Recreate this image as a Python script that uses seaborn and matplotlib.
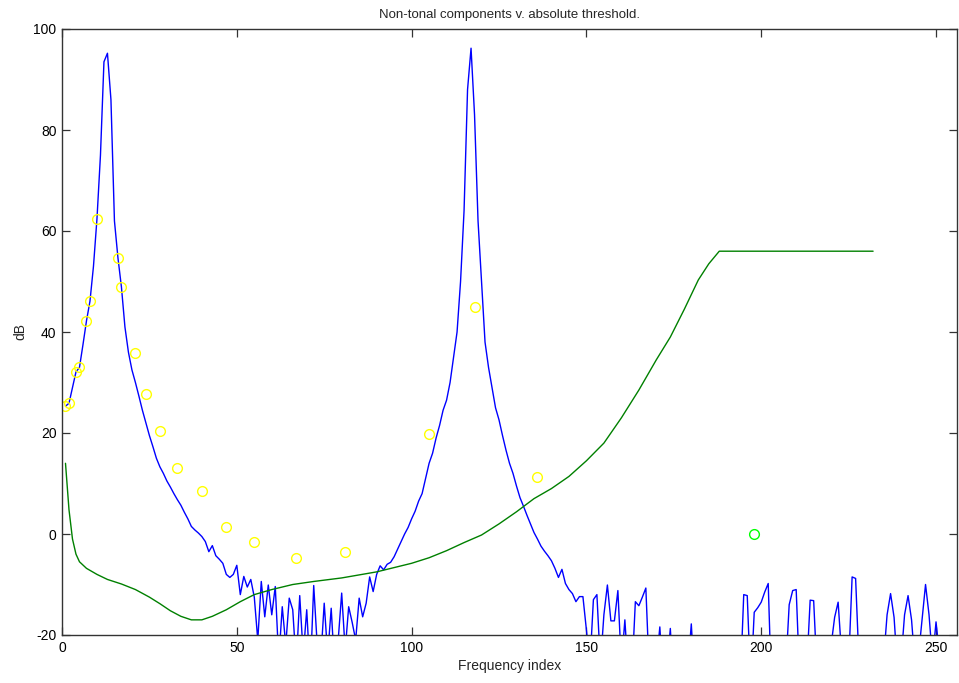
import numpy as np
import pandas as pd
import matplotlib
matplotlib.use("Agg")
import matplotlib.pyplot as plt
import seaborn as sns

# ---------------- data ----------------
freq_index = list(range(1, 257))
spectrum_db = [
    25.3, 25.9, 29.0, 32.1, 33.0, 37.5, 42.2, 46.1, 53.0, 62.4,      # 1-10
    75.0, 93.5, 95.2, 86.0, 62.0, 54.7, 48.9, 41.0, 36.0, 32.5,      # 11-20
    30.0, 27.3, 24.5, 22.0, 19.5, 17.3, 15.0, 13.3, 12.0, 10.5,      # 21-30
    9.3, 8.0, 6.8, 5.7, 4.3, 3.0, 1.5, 0.8, 0.2, -0.5,               # 31-40
    -1.5, -3.5, -2.3, -4.3, -5.0, -5.8, -8.0, -8.6, -8.0, -6.2,      # 41-50
    -12.0, -8.4, -10.5, -9.0, -12.5, -21.0, -9.4, -16.4, -10.1, -16.0,  # 51-60
    -10.4, -25.0, -14.4, -22.0, -12.7, -15.0, -26.0, -12.2, -24.0, -15.0,  # 61-70
    -28.0, -10.2, -22.0, -25.0, -13.7, -24.0, -14.7, -27.0, -21.0, -11.7,  # 71-80
    -23.0, -14.4, -17.5, -21.0, -12.7, -16.4, -13.7, -8.5, -11.4, -8.0,    # 81-90
    -6.3, -7.1, -6.0, -5.6, -4.5, -3.0, -1.5, 0.0, 1.3, 3.0,         # 91-100
    4.5, 6.5, 8.0, 11.0, 14.0, 16.0, 19.0, 21.5, 24.5, 26.5,         # 101-110
    30.0, 35.0, 40.0, 50.0, 64.0, 88.0, 96.2, 83.0, 62.0, 50.0,      # 111-120
    38.0, 33.0, 29.0, 25.0, 22.6, 19.5, 16.6, 14.0, 12.0, 9.5,       # 121-130
    7.2, 5.5, 3.7, 2.0, 0.3, -1.0, -2.4, -3.4, -4.3, -5.3,           # 131-140
    -6.8, -8.6, -7.0, -9.8, -11.0, -11.8, -13.4, -12.4, -12.4, -19.0,  # 141-150
    -26.0, -13.0, -12.0, -26.0, -16.0, -10.1, -17.2, -17.2, -11.2, -26.0,  # 151-160
    -17.0, -28.0, -28.0, -13.4, -14.2, -12.5, -10.7, -28.0, -32.0, -26.0,  # 161-170
    -18.4, -30.0, -27.0, -18.7, -31.0, -34.0, -29.0, -33.0, -27.0, -17.8,  # 171-180
    -30.0, -35.0, -31.0, -36.0, -33.0, -30.0, -35.0, -32.0, -37.0, -33.0,  # 181-190
    -30.0, -34.0, -31.0, -30.0, -12.0, -12.2, -30.0, -15.5, -14.6, -13.5,  # 191-200
    -11.5, -9.8, -32.0, -30.0, -35.0, -31.0, -27.0, -14.0, -11.2, -11.0,   # 201-210
    -29.0, -33.0, -27.0, -13.1, -13.2, -28.0, -32.0, -30.0, -34.0, -22.0,  # 211-220
    -16.5, -13.5, -24.0, -31.0, -26.0, -8.5, -8.8, -26.0, -32.0, -29.0,    # 221-230
    -35.0, -31.0, -33.0, -30.0, -25.0, -16.0, -11.8, -16.5, -27.0, -25.0,  # 231-240
    -16.0, -12.2, -17.0, -26.0, -24.0, -17.0, -10.0, -16.0, -25.0, -17.4,  # 241-250
    -24.0, -30.0, -34.0, -31.0, -28.0, -33.0,                           # 251-256
]

threshold_x = [1, 2, 3, 4, 5, 7, 10, 13, 17, 21, 25, 28, 31, 34, 37, 40, 43,
               47, 51, 55, 60, 66, 72, 80, 90, 100, 105, 110, 115, 120, 125,
               130, 135, 140, 145, 150, 155, 160, 165, 170, 174, 178, 182,
               185, 188, 232]
threshold_db = [14.0, 4.8, -1.0, -4.0, -5.5, -6.8, -8.0, -9.0, -9.9, -11.0,
                -12.5, -13.8, -15.2, -16.3, -17.0, -17.0, -16.3, -15.0, -13.4,
                -12.0, -11.0, -10.0, -9.4, -8.7, -7.5, -5.8, -4.7, -3.3, -1.7,
                -0.2, 2.0, 4.4, 7.0, 9.0, 11.4, 14.5, 18.0, 23.0, 28.5, 34.5,
                39.0, 44.5, 50.3, 53.5, 56.0, 56.0]

nontonal_x = [1, 2, 4, 5, 7, 8, 10, 16, 17, 21, 24, 28, 33, 40, 47, 55, 67,
              81, 105, 118, 136]
nontonal_db = [25.3, 25.9, 32.1, 33.0, 42.2, 46.1, 62.4, 54.7, 48.9, 35.8,
               27.8, 20.3, 13.1, 8.5, 1.3, -1.6, -4.7, -3.6, 19.9, 44.9, 11.3]

extra_x = [198]
extra_db = [0.0]

x_ticks = [0, 50, 100, 150, 200, 250]
y_ticks = [-20, 0, 20, 40, 60, 80, 100]

# ---------------- style ----------------
sns.set_style("ticks")
plt.rcParams["font.family"] = ["Liberation Sans", "DejaVu Sans"]

W, H = 959, 683
fig = plt.figure(figsize=(W / 100, H / 100), dpi=100)
ax = fig.add_axes([62 / W, (H - 635) / H, (957 - 62) / W, (635 - 29) / H])

spec_df = pd.DataFrame({"idx": freq_index, "db": spectrum_db})
thr_df = pd.DataFrame({"idx": threshold_x, "db": threshold_db})
nt_df = pd.DataFrame({"idx": nontonal_x, "db": nontonal_db})
ex_df = pd.DataFrame({"idx": extra_x, "db": extra_db})

sns.lineplot(data=spec_df, x="idx", y="db", ax=ax, color="#0000ff",
             linewidth=1.0, estimator=None, sort=False)
sns.lineplot(data=thr_df, x="idx", y="db", ax=ax, color="#008000",
             linewidth=1.0, estimator=None, sort=False)
sns.lineplot(data=nt_df, x="idx", y="db", ax=ax, color="#ffff00",
             estimator=None, sort=False, linestyle="", marker="o",
             markersize=7, markerfacecolor="none",
             markeredgecolor="#ffff00", markeredgewidth=1.0)
sns.lineplot(data=ex_df, x="idx", y="db", ax=ax, color="#00ff00",
             estimator=None, sort=False, linestyle="", marker="o",
             markersize=7, markerfacecolor="none",
             markeredgecolor="#00ff00", markeredgewidth=1.0)

ax.set_xlim(0, 256)
ax.set_ylim(-20, 100)
ax.set_xticks(x_ticks)
ax.set_yticks(y_ticks)
ax.set_xticklabels([str(t) for t in x_ticks])
ax.set_yticklabels([str(t) for t in y_ticks])

for sp in ax.spines.values():
    sp.set_visible(True)
    sp.set_color("#333333")
    sp.set_linewidth(1.0)

ax.tick_params(direction="in", length=6, width=0.9, color="#333333",
               top=True, right=True, labelsize=10, labelcolor="black", pad=4)

ax.set_xlabel("Frequency index", fontsize=10, labelpad=3)
ax.set_ylabel("dB", fontsize=10, labelpad=4)
ax.set_title("Non-tonal components v. absolute threshold.", fontsize=9.5,
             pad=8)
ax.grid(False)
ax.set_facecolor("white")

fig.savefig("out.png", dpi=100)
